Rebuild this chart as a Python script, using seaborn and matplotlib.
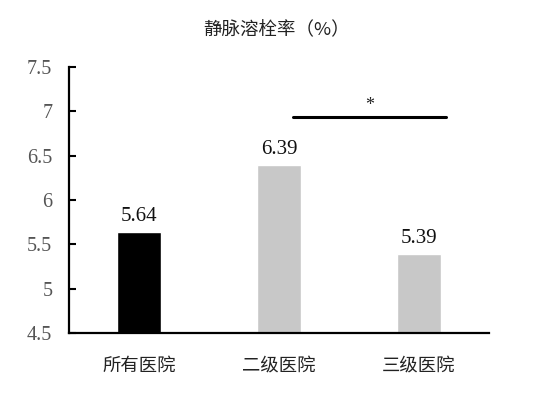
import matplotlib
matplotlib.use("Agg")
import matplotlib.pyplot as plt
from matplotlib.font_manager import FontProperties, findfont
import seaborn as sns
import pandas as pd

categories = ["所有医院", "二级医院", "三级医院"]
values = [5.64, 6.39, 5.39]
bar_colors = ["#000000", "#c8c8c8", "#c8c8c8"]
value_labels = ["5.64", "6.39", "5.39"]
yticks = [4.5, 5, 5.5, 6, 6.5, 7, 7.5]
ytick_labels = ["4.5", "5", "5.5", "6", "6.5", "7", "7.5"]
title = "静脉溶栓率（%）"
sig_pair = (1, 2)
sig_level = 6.94
sig_text = "*"

sns.set_style("white")
plt.rcParams['font.family'] = ['Noto Sans CJK SC', 'DejaVu Sans']

serif_path = findfont(FontProperties(family="Liberation Serif"))

def serif(size):
    return FontProperties(fname=serif_path, size=size)

df = pd.DataFrame({"cat": categories, "val": values})

fig = plt.figure(figsize=(5.54, 3.96), dpi=100)
ax = fig.add_axes([0.1245, 0.159, 0.7582, 0.6718])

sns.barplot(data=df, x="cat", y="val", hue="cat", palette=bar_colors,
            width=0.314, legend=False, ax=ax, saturation=1)

ax.set_ylim(4.5, 7.5)
ax.set_xlim(-0.5, 2.5)
ax.set_yticks(yticks)
ax.set_yticklabels(ytick_labels)
for t in ax.get_yticklabels():
    t.set_fontproperties(serif(14.5))
    t.set_color("#555555")
ax.set_xticks(range(len(categories)))
ax.set_xticklabels(categories, fontsize=13.2, color="#222222")
ax.set_xlabel("")
ax.set_ylabel("")
ax.tick_params(axis='y', direction='in', length=5, width=1.5, color="black", left=True, pad=12)
ax.tick_params(axis='x', length=0, pad=17)

for s in ["top", "right"]:
    ax.spines[s].set_visible(False)
for s in ["left", "bottom"]:
    ax.spines[s].set_color("black")
    ax.spines[s].set_linewidth(1.6)

for i, (v, lab) in enumerate(zip(values, value_labels)):
    ax.text(i, v + 0.07, lab, ha="center", va="bottom", fontproperties=serif(15),
            color="#111111")

ax.plot([sig_pair[0] + 0.1, sig_pair[1] + 0.19], [sig_level, sig_level],
        color="black", lw=2.2, clip_on=False)
ax.text((sig_pair[0] + 0.1 + sig_pair[1] + 0.19) / 2, sig_level + 0.03, sig_text,
        ha="center", va="bottom", fontproperties=serif(13), color="#222222")

fig.text(0.5, 0.924, title, ha="center", va="center", fontsize=13.3, color="#222222")

fig.savefig("out.png", dpi=100, facecolor="white")
